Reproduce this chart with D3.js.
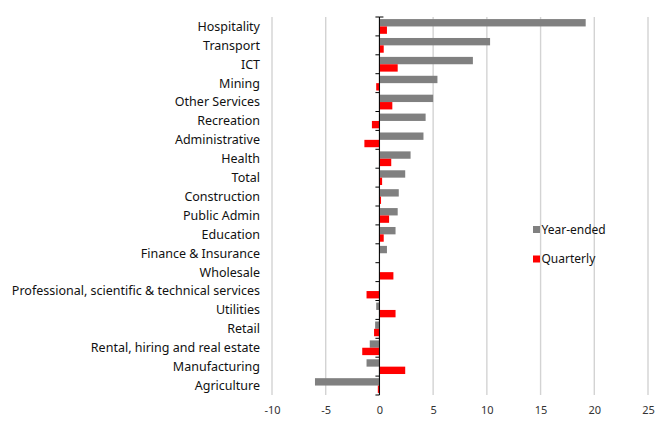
<!DOCTYPE html>
<html>
<head>
<meta charset="utf-8">
<script src="https://cdn.jsdelivr.net/npm/d3@7"></script>
<style>
  html, body { margin: 0; padding: 0; background: #fff; }
  svg { display: block; font-family: "Noto Sans", "Open Sans", sans-serif; }
</style>
</head>
<body>
<svg id="chart" width="661" height="422"></svg>
<script>
// Industries, top to bottom
const categories = [
  "Hospitality", "Transport", "ICT", "Mining", "Other Services", "Recreation",
  "Administrative", "Health", "Total", "Construction", "Public Admin", "Education",
  "Finance & Insurance", "Wholesale", "Professional, scientific & technical services",
  "Utilities", "Retail", "Rental, hiring and real estate", "Manufacturing", "Agriculture"
];
// Year-ended growth (%)
const yearEnded = [
  19.2, 10.3, 8.7, 5.4, 5.0, 4.3,
  4.1, 2.9, 2.4, 1.8, 1.7, 1.5,
  0.7, 0.0, -0.05,
  -0.3, -0.4, -0.9, -1.2, -6.0
];
// Quarterly growth (%)
const quarterly = [
  0.7, 0.4, 1.7, -0.3, 1.2, -0.7,
  -1.4, 1.1, 0.25, 0.15, 0.9, 0.4,
  0.0, 1.3, -1.2,
  1.5, -0.5, -1.6, 2.4, -0.15
];
const xTicks = [-10, -5, 0, 5, 10, 15, 20, 25];
const seriesNames = ["Year-ended", "Quarterly"];
const seriesColors = ["#808080", "#ff0000"];

const svg = d3.select("#chart");
const plot = { left: 272, right: 648, top: 17, bottom: 395 };

const x = d3.scaleLinear().domain([-10, 25]).range([plot.left, plot.right]);
const y = d3.scaleBand().domain(categories).range([plot.top, plot.bottom]).paddingInner(0.22).paddingOuter(0.11);
const ySub = d3.scaleBand().domain([0, 1]).range([0, y.bandwidth()]);

// Vertical gridlines
svg.append("g")
  .selectAll("line")
  .data(xTicks)
  .join("line")
  .attr("x1", d => x(d)).attr("x2", d => x(d))
  .attr("y1", plot.top).attr("y2", plot.bottom)
  .attr("stroke", "#d3d3d3")
  .attr("stroke-width", 1.4);

// X axis labels (plain hyphen for negatives)
const xAxis = d3.axisBottom(x).tickValues(xTicks).tickSize(0).tickPadding(0).tickFormat(d => String(d));
const gx = svg.append("g").attr("transform", `translate(0,${plot.bottom + 11})`).call(xAxis);
gx.select(".domain").remove();
gx.selectAll("text")
  .attr("font-size", 11)
  .attr("fill", "#333")
  .attr("font-family", "Noto Sans, sans-serif");

// Bars
const rows = categories.map((c, i) => ({ c, v: [yearEnded[i], quarterly[i]] }));
const groups = svg.append("g").selectAll("g")
  .data(rows)
  .join("g")
  .attr("transform", d => `translate(0,${y(d.c)})`);

groups.selectAll("rect")
  .data(d => d.v.map((v, s) => ({ v, s })))
  .join("rect")
  .attr("x", d => x(Math.min(0, d.v)))
  .attr("width", d => Math.abs(x(d.v) - x(0)))
  .attr("y", d => ySub(d.s))
  .attr("height", ySub.bandwidth())
  .attr("fill", d => seriesColors[d.s]);

// Category axis at zero
const boundaries = d3.range(categories.length + 1).map(i => plot.top + i * (plot.bottom - plot.top) / categories.length);
svg.append("g")
  .selectAll("line")
  .data(boundaries)
  .join("line")
  .attr("x1", x(0) - 4).attr("x2", x(0))
  .attr("y1", d => d).attr("y2", d => d)
  .attr("stroke", "#000").attr("stroke-width", 1);
svg.append("line")
  .attr("x1", x(0)).attr("x2", x(0))
  .attr("y1", plot.top).attr("y2", plot.bottom)
  .attr("stroke", "#000").attr("stroke-width", 1);
svg.append("line")
  .attr("x1", x(0)).attr("x2", x(0) + 4)
  .attr("y1", plot.top).attr("y2", plot.top)
  .attr("stroke", "#000").attr("stroke-width", 1);

// Category labels
svg.append("g")
  .selectAll("text")
  .data(categories)
  .join("text")
  .attr("x", 260)
  .attr("y", d => y(d) + y.bandwidth() / 2)
  .attr("dy", "0.35em")
  .attr("text-anchor", "end")
  .attr("font-size", 12.5)
  .attr("fill", "#111")
  .text(d => d);

// Legend
const legend = svg.append("g").attr("transform", "translate(533,225)");
seriesNames.forEach((name, i) => {
  const g = legend.append("g").attr("transform", `translate(0,${i * 29.5})`);
  g.append("rect").attr("x", 0).attr("y", 1).attr("width", 7).attr("height", 7).attr("fill", seriesColors[i]);
  g.append("text").attr("x", 8.5).attr("y", 4.5).attr("dy", "0.35em")
    .attr("font-size", 12).attr("fill", "#111").text(name);
});
</script>
</body>
</html>
